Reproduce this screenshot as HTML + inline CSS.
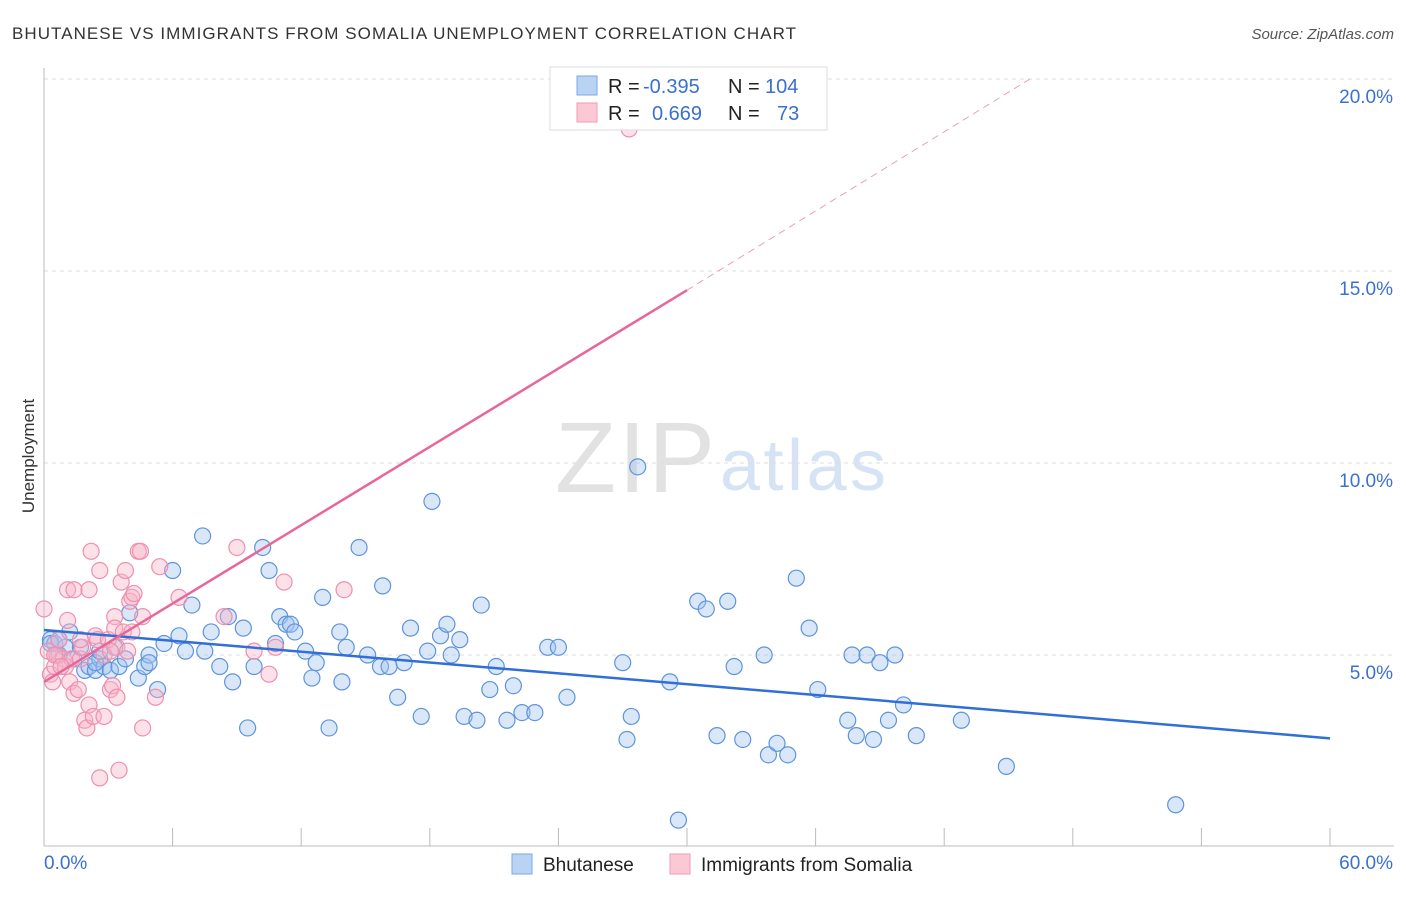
<!DOCTYPE html>
<html><head><meta charset="utf-8"><style>
body{margin:0;background:#fff;font-family:"Liberation Sans",sans-serif}
svg text{font-family:"Liberation Sans",sans-serif}
</style></head><body>
<svg id="c" width="1406" height="892" xmlns="http://www.w3.org/2000/svg">
<text x="12" y="39" font-size="17" textLength="784" fill="#333">BHUTANESE VS IMMIGRANTS FROM SOMALIA UNEMPLOYMENT CORRELATION CHART</text>
<text x="1394" y="39" font-size="15" fill="#555" font-style="italic" text-anchor="end">Source: ZipAtlas.com</text>
<text x="555" y="492" font-size="100" textLength="160" fill="#e2e2e2" font-family="Liberation Serif">ZIP</text>
<text x="720" y="490" font-size="72" textLength="166" fill="#d5e3f5">atlas</text>
<text x="34" y="456" font-size="17" fill="#333" text-anchor="middle" transform="rotate(-90 34 456)">Unemployment</text>
<g id="grid"></g><g id="pts"></g><g id="lines"></g>
<g>
<rect x="550" y="67" width="277" height="63" fill="#fff" stroke="#ddd"/>
<rect x="577" y="76" width="20" height="19" fill="#b9d3f5" stroke="#7aa9e8"/>
<rect x="577" y="103" width="20" height="19" fill="#fbc9d6" stroke="#f09ab3"/>
<text x="608" y="93" font-size="20" fill="#222">R =<tspan fill="#3a70d0" x="643">-0.395</tspan><tspan x="728">N =</tspan><tspan fill="#3a70d0" x="765">104</tspan></text>
<text x="608" y="120" font-size="20" fill="#222">R =<tspan fill="#3a70d0" x="652">0.669</tspan><tspan x="728">N =</tspan><tspan fill="#3a70d0" x="777">73</tspan></text>
</g>
<g>
<rect x="512" y="854" width="20" height="20" fill="#b9d3f5" stroke="#7aa9e8"/>
<text x="543" y="871" font-size="19" fill="#222">Bhutanese</text>
<rect x="670" y="854" width="20" height="20" fill="#fbc9d6" stroke="#f09ab3"/>
<text x="701" y="871" font-size="19" fill="#222">Immigrants from Somalia</text>
</g>
</svg>
<script>
const yTicks=[5,10,15,20];
const xTickLabels=["0.0%","60.0%"];
const blueX=[0.3,0.5,0.7,1.0,1.2,1.4,1.7,1.9,2.1,2.4,2.6,2.8,3.1,3.3,3.5,3.8,4.0,4.4,4.7,4.9,5.3,5.6,6.0,6.3,6.6,6.9,7.4,7.5,7.8,8.2,8.6,8.8,9.3,9.5,9.8,10.2,10.5,10.8,11.0,11.3,11.5,11.7,12.2,12.5,12.7,13.0,13.3,13.8,13.9,14.1,14.7,15.1,15.7,15.8,16.1,16.5,16.8,17.1,17.6,17.9,18.1,18.5,18.8,19.0,19.4,19.6,20.2,20.4,20.8,21.1,21.6,21.9,22.3,22.9,23.5,24.0,24.4,27.0,27.2,27.4,27.7,29.2,29.6,30.5,30.9,31.4,31.9,32.2,32.6,33.6,33.8,34.2,34.7,35.1,35.7,36.1,37.5,37.7,37.9,38.4,38.7,39.0,39.4,39.7,40.1,40.7,42.8,44.9,52.8,0.3,0.7,2.4,4.9,2.6];
const blueY=[5.4,5.3,5.0,5.2,5.6,4.9,5.2,4.6,4.7,4.6,4.9,4.7,4.6,5.2,4.7,4.9,6.1,4.4,4.7,5.0,4.1,5.3,7.2,5.5,5.1,6.3,8.1,5.1,5.6,4.7,6.0,4.3,5.7,3.1,4.7,7.8,7.2,5.3,6.0,5.8,5.8,5.6,5.1,4.4,4.8,6.5,3.1,5.6,4.3,5.2,7.8,5.0,4.7,6.8,4.7,3.9,4.8,5.7,3.4,5.1,9.0,5.5,5.8,5.0,5.4,3.4,3.3,6.3,4.1,4.7,3.3,4.2,3.5,3.5,5.2,5.2,3.9,4.8,2.8,3.4,9.9,4.3,0.7,6.4,6.2,2.9,6.4,4.7,2.8,5.0,2.4,2.7,2.4,7.0,5.7,4.1,3.3,5.0,2.9,5.0,2.8,4.8,3.3,5.0,3.7,2.9,3.3,2.1,1.1,5.3,5.4,4.8,4.8,5.1];
const pinkX=[0.0,0.2,0.3,0.4,0.5,0.6,0.7,0.9,1.0,1.1,1.1,1.2,1.3,1.4,1.4,1.6,1.7,1.8,1.9,2.0,2.1,2.1,2.2,2.3,2.4,2.5,2.6,2.6,2.8,2.8,3.0,3.1,3.2,3.3,3.3,3.4,3.4,3.5,3.6,3.7,3.8,3.9,4.0,4.1,4.1,4.2,4.4,4.5,4.6,4.6,5.2,5.4,6.3,8.4,9.0,9.8,10.5,10.8,11.2,14.0,27.3,0.5,1.7,3.1,0.8];
const pinkY=[6.2,5.1,4.5,4.3,4.7,5.0,5.4,4.9,4.7,6.7,5.9,4.3,4.9,6.7,4.0,4.1,4.9,5.2,3.3,3.1,6.7,3.7,7.7,3.4,5.5,5.4,7.2,1.8,3.4,5.0,5.4,4.1,4.2,6.0,5.7,5.2,3.9,2.0,6.9,5.6,7.2,5.1,6.4,6.5,5.6,6.6,7.7,7.7,6.0,3.1,3.9,7.3,6.5,6.0,7.8,5.1,4.5,5.2,6.9,6.7,18.7,5.0,5.4,5.1,4.7];
const X=v=>44+v/60*1286, Y=v=>847-v*38.4;
const NS="http://www.w3.org/2000/svg";
function mk(t,a,p){const e=document.createElementNS(NS,t);for(const k in a)e.setAttribute(k,a[k]);p.appendChild(e);return e;}
const grid=document.getElementById('grid');
yTicks.forEach(t=>{
const l=mk('line',{x1:44,x2:1394,y1:Y(t),y2:Y(t),stroke:'#ddd','stroke-dasharray':'4,4'},grid);


const tx=mk('text',{x:1393,y:Y(t)+24,'font-size':19,fill:'#3a70d0','text-anchor':'end'},grid);tx.textContent=t.toFixed(1)+'%';


});
mk('line',{x1:44,x2:44,y1:68,y2:846,stroke:'#bbb'},grid);
mk('line',{x1:44,x2:1394,y1:846,y2:846,stroke:'#bbb'},grid);
for(let i=0;i<=10;i++){mk('line',{x1:X(i*6),x2:X(i*6),y1:828,y2:846,stroke:'#bbb'},grid);}
xTickLabels.forEach((s,i)=>{const tx=mk('text',{x:i?1393:44,y:869,'font-size':19,fill:'#3a70d0','text-anchor':i?'end':'start'},grid);tx.textContent=s;

});
const pts=document.getElementById('pts');
blueX.forEach((x,i)=>{const c=mk('circle',{cx:X(x),cy:Y(blueY[i]),r:8,fill:'rgba(160,195,240,0.4)',stroke:'#5d94dc','stroke-width':1.2},pts);

});
pinkX.forEach((x,i)=>{const c=mk('circle',{cx:X(x),cy:Y(pinkY[i]),r:8,fill:'rgba(248,180,200,0.4)',stroke:'#ee8fae','stroke-width':1.2},pts);

});
const L=document.getElementById('lines');
let a=mk('line',{x1:X(0),y1:Y(5.65),x2:X(60),y2:Y(2.83),stroke:'#2f6fd6','stroke-width':2.5},L);


let b=mk('line',{x1:X(0),y1:Y(4.3),x2:X(30),y2:Y(14.5),stroke:'#e8679a','stroke-width':2.5},L);


let d=mk('line',{x1:X(30),y1:Y(14.5),x2:X(46),y2:Y(20),stroke:'#eaa0bb','stroke-width':1,'stroke-dasharray':'7,5'},L);


</script>
</body></html>
